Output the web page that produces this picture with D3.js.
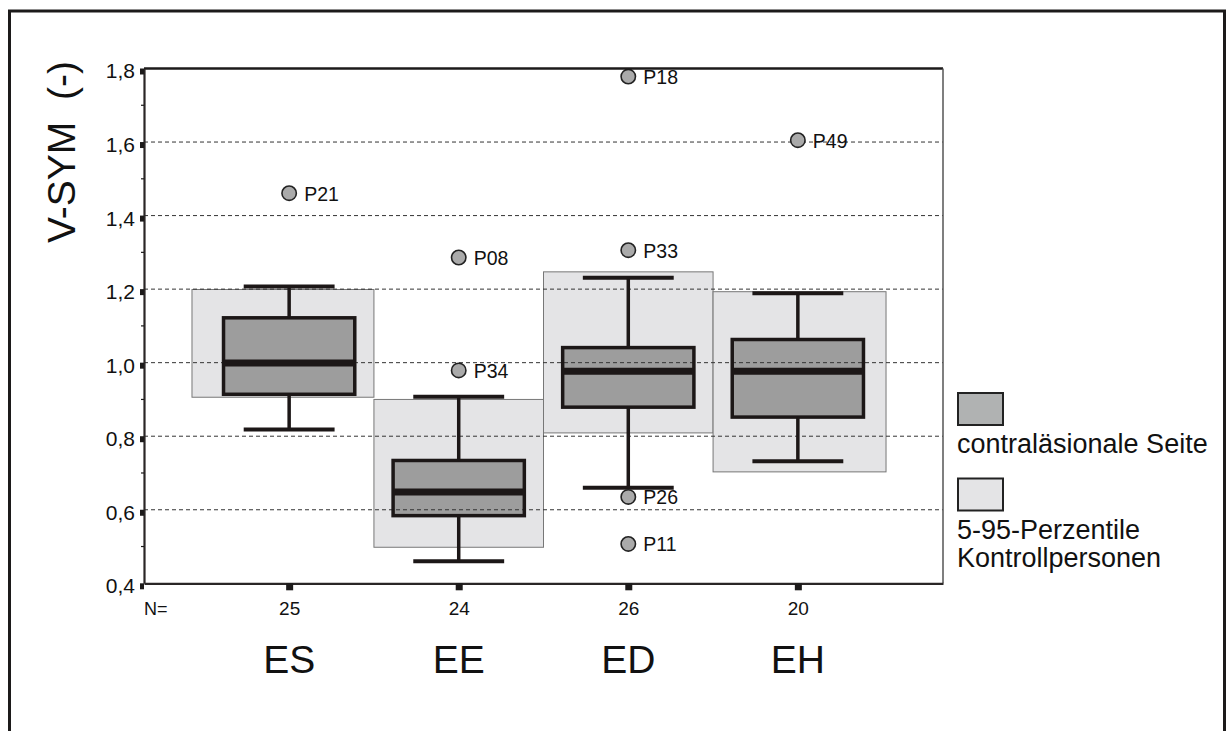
<!DOCTYPE html>
<html>
<head>
<meta charset="utf-8">
<script src="https://cdn.jsdelivr.net/npm/d3@7"></script>
<style>
  body { margin: 0; background: #fff; }
  svg { display: block; font-family: "Liberation Sans", Arial, sans-serif; }
</style>
</head>
<body>
<div class="chart"></div>
<script>
// values
var categories = ["ES", "EE", "ED", "EH"];
var counts = [25, 24, 26, 20];
var whiskerLow = [0.818, 0.460, 0.660, 0.732];
var q1 = [0.914, 0.584, 0.879, 0.852];
var median = [0.999, 0.648, 0.977, 0.977];
var q3 = [1.122, 0.734, 1.041, 1.063];
var whiskerHigh = [1.207, 0.907, 1.231, 1.189];
var ctrlLow = [0.906, 0.498, 0.809, 0.703];
var ctrlHigh = [1.199, 0.900, 1.247, 1.193];
var outlierCat = ["ES", "EE", "EE", "ED", "ED", "ED", "ED", "EH"];
var outlierId = ["P21", "P08", "P34", "P18", "P33", "P26", "P11", "P49"];
var outlierVal = [1.461, 1.286, 0.979, 1.778, 1.306, 0.635, 0.507, 1.605];
var yTicks = [0.4, 0.6, 0.8, 1.0, 1.2, 1.4, 1.6, 1.8];
var gridVals = [0.6, 0.8, 1.0, 1.2, 1.4, 1.6];
var legendLabels = [["contraläsionale Seite"], ["5-95-Perzentile", "Kontrollpersonen"]];

var width = 1229, height = 731;
var pLeft = 144, pRight = 943, pTop = 68.5, pBottom = 583.3;

var svg = d3.select(".chart").append("svg")
    .attr("width", width)
    .attr("height", height);

// outer frame, its bottom edge runs off the picture
svg.append("rect")
    .attr("x", 9.5).attr("y", 11)
    .attr("width", 1215).attr("height", 800)
    .attr("fill", "none")
    .attr("stroke", "#1c1a1a")
    .attr("stroke-width", 3);

var x = d3.scalePoint().domain(categories).range([pLeft, pRight]).padding(0.856);
var y = d3.scaleLinear().domain([0.4, 1.8]).range([pBottom, pTop]);
var step = x.step();

var rows = categories.map(function(c, i) {
    return {cat: c, i: i, lo: whiskerLow[i], q1: q1[i], med: median[i], q3: q3[i],
            hi: whiskerHigh[i], cLo: ctrlLow[i], cHi: ctrlHigh[i], n: counts[i]};
});

// light boxes of the controls, meeting at the midpoints
var g = svg.append("g");
g.selectAll(".ctrl").data(rows).enter().append("rect")
    .attr("class", "ctrl")
    .attr("x", function(d) { return x(d.cat) - step * (d.i == 0 ? 0.573 : 0.5); })
    .attr("width", function(d) {
        return step * ((d.i == 0 ? 0.573 : 0.5) + (d.i == rows.length - 1 ? 0.52 : 0.5));
    })
    .attr("y", function(d) { return y(d.cHi); })
    .attr("height", function(d) { return y(d.cLo) - y(d.cHi); })
    .attr("fill", "#e4e4e6")
    .attr("stroke", "#777")
    .attr("stroke-width", 1);

var boxHalf = step * 0.387, capHalf = step * 0.268;

g.selectAll(".boxfill").data(rows).enter().append("rect")
    .attr("class", "boxfill")
    .attr("x", function(d) { return x(d.cat) - boxHalf; })
    .attr("width", boxHalf * 2)
    .attr("y", function(d) { return y(d.q3); })
    .attr("height", function(d) { return y(d.q1) - y(d.q3); })
    .attr("fill", "#9d9d9d");

// dashed grid
g.selectAll(".grid").data(gridVals).enter().append("line")
    .attr("x1", pLeft).attr("x2", pRight)
    .attr("y1", function(d) { return y(d); })
    .attr("y2", function(d) { return y(d); })
    .attr("stroke", "#333")
    .attr("stroke-width", 1)
    .attr("stroke-dasharray", "4,3");

g.selectAll(".boxline").data(rows).enter().append("rect")
    .attr("x", function(d) { return x(d.cat) - boxHalf; })
    .attr("width", boxHalf * 2)
    .attr("y", function(d) { return y(d.q3); })
    .attr("height", function(d) { return y(d.q1) - y(d.q3); })
    .attr("fill", "none")
    .attr("stroke", "#1c1717")
    .attr("stroke-width", 3.5);

// whiskers
g.selectAll(".stemhi").data(rows).enter().append("line")
    .attr("x1", function(d) { return x(d.cat); })
    .attr("x2", function(d) { return x(d.cat); })
    .attr("y1", function(d) { return y(d.q3); })
    .attr("y2", function(d) { return y(d.hi); })
    .attr("stroke", "#1c1717").attr("stroke-width", 3.5);
g.selectAll(".stemlo").data(rows).enter().append("line")
    .attr("x1", function(d) { return x(d.cat); })
    .attr("x2", function(d) { return x(d.cat); })
    .attr("y1", function(d) { return y(d.q1); })
    .attr("y2", function(d) { return y(d.lo); })
    .attr("stroke", "#1c1717").attr("stroke-width", 3.5);
["hi", "lo"].forEach(function(k) {
    g.selectAll(".cap" + k).data(rows).enter().append("line")
	.attr("x1", function(d) { return x(d.cat) - capHalf; })
	.attr("x2", function(d) { return x(d.cat) + capHalf; })
	.attr("y1", function(d) { return y(d[k]); })
	.attr("y2", function(d) { return y(d[k]); })
	.attr("stroke", "#1c1717").attr("stroke-width", 4);
});

// medians
g.selectAll(".med").data(rows).enter().append("line")
    .attr("x1", function(d) { return x(d.cat) - boxHalf; })
    .attr("x2", function(d) { return x(d.cat) + boxHalf; })
    .attr("y1", function(d) { return y(d.med); })
    .attr("y2", function(d) { return y(d.med); })
    .attr("stroke", "#1c1717").attr("stroke-width", 7);

// outliers
var outs = outlierId.map(function(id, i) {
    return {id: id, cat: outlierCat[i], v: outlierVal[i]};
});
g.selectAll(".out").data(outs).enter().append("circle")
    .attr("cx", function(d) { return x(d.cat); })
    .attr("cy", function(d) { return y(d.v); })
    .attr("r", 7.2)
    .attr("fill", "#aaaaaa")
    .attr("stroke", "#222")
    .attr("stroke-width", 1.6);
g.selectAll(".outlab").data(outs).enter().append("text")
    .attr("x", function(d) { return x(d.cat) + 15; })
    .attr("y", function(d) { return y(d.v) + 7.5; })
    .attr("font-size", 19.5)
    .attr("fill", "#111")
    .text(function(d) { return d.id; });

// frame of the plot
svg.append("line").attr("x1", pLeft).attr("x2", pRight).attr("y1", pTop).attr("y2", pTop)
    .attr("stroke", "#1c1a1a").attr("stroke-width", 2.5);
svg.append("line").attr("x1", pRight).attr("x2", pRight).attr("y1", pTop).attr("y2", pBottom)
    .attr("stroke", "#555").attr("stroke-width", 1.5);

// y axis
var yAxis = d3.axisLeft(y).tickValues(yTicks).tickSize(0)
    .tickFormat(function(d) { return d3.format(".1f")(d).replace(".", ","); });
var ya = svg.append("g").attr("transform", "translate(" + pLeft + ",0)").call(yAxis);
ya.select(".domain").attr("stroke", "#2a2626").attr("stroke-width", 2.2);
ya.selectAll(".tick text")
    .attr("x", -9).attr("dy", "0.45em")
    .attr("font-size", 21)
    .attr("font-family", "Liberation Sans, Arial, sans-serif")
    .attr("fill", "#111");
ya.selectAll(".tick").append("rect")
    .attr("x", -4).attr("y", -0.5).attr("width", 4).attr("height", 6)
    .attr("fill", "#1c1a1a");
var minor = d3.range(0.5, 1.8, 0.2);
svg.selectAll(".minor").data(minor).enter().append("line")
    .attr("x1", pLeft - 3).attr("x2", pLeft)
    .attr("y1", function(d) { return y(d); })
    .attr("y2", function(d) { return y(d); })
    .attr("stroke", "#1c1a1a").attr("stroke-width", 1.2);

// x axis
var xAxis = d3.axisBottom(x).tickSize(0).tickFormat(function(d, i) { return counts[i]; });
var xa = svg.append("g").attr("transform", "translate(0," + pBottom + ")").call(xAxis);
xa.select(".domain").attr("stroke", "#2a2626").attr("stroke-width", 2.2);
xa.selectAll(".tick text")
    .attr("y", 32).attr("dy", 0)
    .attr("font-size", 19)
    .attr("font-family", "Liberation Sans, Arial, sans-serif")
    .attr("fill", "#111");
xa.selectAll(".tick").append("rect")
    .attr("x", -3.5).attr("y", 0).attr("width", 7).attr("height", 7)
    .attr("fill", "#1c1a1a");

svg.append("text").attr("x", pLeft).attr("y", pBottom + 32)
    .attr("font-size", 18).attr("fill", "#111").text("N=");

svg.selectAll(".catlab").data(categories).enter().append("text")
    .attr("x", function(d) { return x(d); })
    .attr("y", 673)
    .attr("text-anchor", "middle")
    .attr("font-size", 39)
    .attr("fill", "#111")
    .text(function(d) { return d; });

svg.append("text")
    .attr("transform", "translate(75,152) rotate(-90)")
    .attr("text-anchor", "middle")
    .attr("font-size", 39)
    .attr("fill", "#111")
    .attr("xml:space", "preserve")
    .style("white-space", "pre")
    .text("V-SYM  (-)");

// legend
var legFill = ["#b0b2b2", "#e4e4e6"];
var legY = [393, 478.5];
legFill.forEach(function(c, i) {
    svg.append("rect")
	.attr("x", 958).attr("y", legY[i])
	.attr("width", 45).attr("height", 32)
	.attr("fill", c)
	.attr("stroke", "#222").attr("stroke-width", 2);
    legendLabels[i].forEach(function(t, j) {
	svg.append("text")
	    .attr("x", 957).attr("y", legY[i] + 60 + j * 28.5)
	    .attr("font-size", 27)
	    .attr("fill", "#111")
	    .text(t);
    });
});
</script>
</body>
</html>
